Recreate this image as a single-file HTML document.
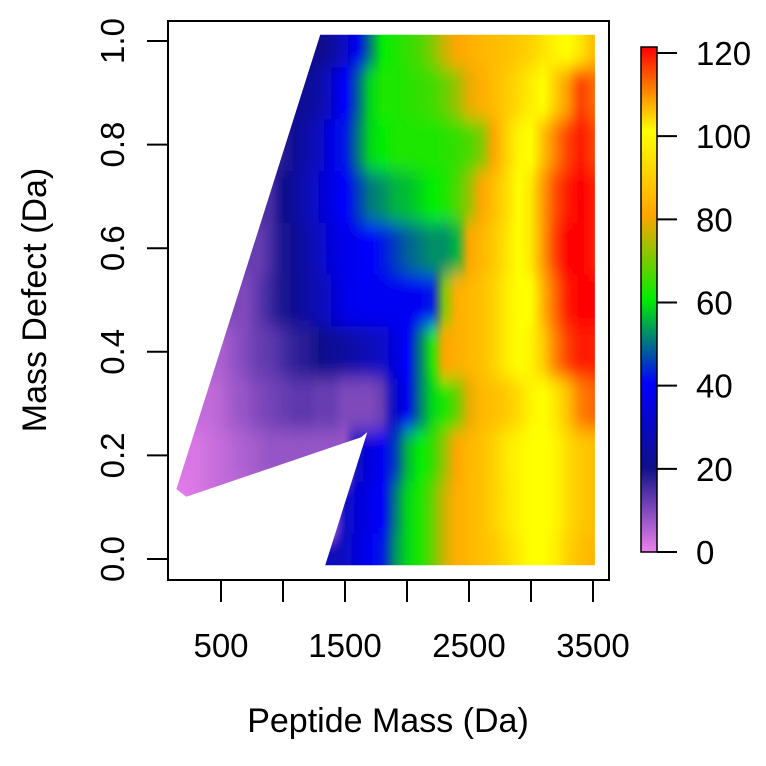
<!DOCTYPE html>
<html><head><meta charset="utf-8"><style>
html,body{margin:0;padding:0;background:#fff;}
svg{display:block;font-family:"Liberation Sans",Arial,sans-serif;}
</style></head><body>
<svg id="chart" width="766" height="766" viewBox="0 0 766 766">
<defs id="defs">
<linearGradient id="cbgrad" x1="0" y1="1" x2="0" y2="0">
<stop offset="0" stop-color="#ee82ee"/><stop offset="0.1667" stop-color="#10108a"/><stop offset="0.3333" stop-color="#0000ff"/><stop offset="0.5" stop-color="#00ee00"/><stop offset="0.6667" stop-color="#ffa500"/><stop offset="0.8333" stop-color="#ffff00"/><stop offset="1" stop-color="#ff0000"/>
</linearGradient>
<clipPath id="regionclip"><polygon id="regionpoly" points=""/></clipPath>
<filter id="vblur" x="-5%" y="-10%" width="110%" height="120%"><feGaussianBlur stdDeviation="1.5 9"/></filter>
</defs>
<g clip-path="url(#regionclip)">
<g id="cells" filter="url(#vblur)"></g>
</g>
<rect x="168" y="21" width="441" height="559" fill="none" stroke="#000" stroke-width="2"/>
<g id="axes"></g>
<rect x="641" y="47" width="16" height="505" fill="url(#cbgrad)" stroke="#000" stroke-width="1.5"/>
<text x="388" y="732" font-size="34" text-anchor="middle">Peptide Mass (Da)</text>
<text transform="translate(46,300) rotate(-90)" font-size="34" text-anchor="middle">Mass Defect (Da)</text>
</svg>
<script>
const defectRows = [0.0,0.1,0.2,0.3,0.4,0.5,0.6,0.7,0.8,0.9,1.0];
const rowStartMass = [1400,200,200,400,500,700,800,900,1000,1200,1300];
const rowValues = [
 [28,30,34,38,42,52,58,62,68,76,82,84,86,88,92,96,100,100,96,90,86,84],
 [1,2,3,4,null,null,null,null,null,null,null,null,null,30,33,36,40,50,58,62,68,76,82,84,86,90,94,98,100,100,98,92,88,86],
 [2,2,3,4,5,6,7,8,8,8,null,null,null,null,30,34,38,45,55,60,64,72,80,84,86,90,95,98,100,100,98,92,88,86],
 [4,5,7,8,10,11,12,13,13,12,12,10,10,10,12,30,38,50,58,62,68,78,84,86,88,92,98,100,102,105,110,112],
 [6,8,10,12,13,15,17,18,20,22,24,26,28,30,34,40,50,62,80,82,84,86,90,96,100,101,104,110,115,118,118],
 [10,13,16,19,22,25,28,32,36,38,38,38,38,38,38,42,70,82,84,86,90,96,100,100,106,112,118,120,120],
 [12,15,19,22,26,30,34,37,38,40,42,45,48,50,52,52,55,80,84,88,94,100,102,108,115,120,120,118],
 [15,20,24,28,32,36,40,45,50,52,55,56,58,60,62,66,72,80,86,92,100,102,108,114,118,120,118],
 [18,22,26,30,36,42,50,58,60,62,62,62,62,63,64,66,70,80,90,98,100,105,110,115,118,115],
 [22,26,32,40,48,58,62,62,63,64,65,68,72,78,82,85,88,92,96,100,104,108,115,112],
 [20,24,30,38,50,60,62,64,66,70,76,80,82,84,85,86,88,90,94,98,100,102,105]
];
const regionMass   = [140, 1300, 3515, 3515, 1340, 1680, 1630, 220];
const regionDefect = [0.135, 1.012, 1.012, -0.012, -0.012, 0.245, 0.235, 0.12];
const xTicks = [500,1000,1500,2000,2500,3000,3500];
const xTickLabels = ["500","1500","2500","3500"];
const yTicks = [0,0.2,0.4,0.6,0.8,1.0];
const cbTicks = [0,20,40,60,80,100,120];

const NS="http://www.w3.org/2000/svg";
function xs(m){return 221+(m-500)*0.124;}
function ys(d){return 559-d*518;}
function cbs(v){return 552-v*(499/120);}
const stops=[[0,[238,130,238]],[20,[16,16,138]],[40,[0,0,255]],[60,[0,238,0]],[80,[255,165,0]],[100,[255,255,0]],[120,[255,0,0]]];
function color(v){
  v=Math.max(0,Math.min(120,v));
  for(let i=0;i<stops.length-1;i++){
    const [a,ca]=stops[i],[b,cb]=stops[i+1];
    if(v<=b){const t=(v-a)/(b-a);
      return 'rgb('+ca.map((c,k)=>Math.round(c+(cb[k]-c)*t)).join(',')+')';}
  }
  return 'rgb(255,0,0)';
}
function mk(tag,attrs){const e=document.createElementNS(NS,tag);for(const k in attrs)e.setAttribute(k,attrs[k]);return e;}
document.getElementById('regionpoly').setAttribute('points',regionMass.map((m,i)=>xs(m).toFixed(1)+','+ys(regionDefect[i]).toFixed(1)).join(' '));
const defs=document.getElementById('defs');
const cells=document.getElementById('cells');
const X0=xs(100), X1=xs(3600);
defectRows.forEach((d,ri)=>{
  const vals=rowValues[ri].slice();
  for(let i=0;i<vals.length;i++){ if(vals[i]===null){ let j=i; while(j<vals.length&&vals[j]===null)j++; let k=i; while(k>=0&&vals[k]===null)k--; vals[i]= (k>=0 && (j>=vals.length || i-k<=j-i)) ? vals[k] : vals[j]; } }
  const g=mk('linearGradient',{id:'row'+ri,gradientUnits:'userSpaceOnUse',x1:X0,x2:X1,y1:0,y2:0});
  vals.forEach((v,ci)=>{
    const m=rowStartMass[ri]+ci*100;
    const off=(xs(m)-X0)/(X1-X0);
    g.appendChild(mk('stop',{offset:off.toFixed(4),'stop-color':color(v)}));
  });
  defs.appendChild(g);
  const y0=(ri===0)?d-0.1:d-0.05, y1=(ri===defectRows.length-1)?d+0.1:d+0.05;
  const r=mk('rect',{x:X0-20,y:ys(y1).toFixed(1),width:(X1-X0+40).toFixed(1),height:(ys(y0)-ys(y1)+0.6).toFixed(1),fill:'url(#row'+ri+')'});
  
  
  cells.appendChild(r);
});
const axes=document.getElementById('axes');
xTicks.forEach(t=>{
  const l=mk('line',{x1:xs(t),x2:xs(t),y1:580,y2:602,stroke:'#000','stroke-width':2});
  
  
  axes.appendChild(l);
});
xTickLabels.forEach(s=>{
  const t=mk('text',{x:xs(+s),y:657,'font-size':33,'text-anchor':'middle'});
  t.textContent=s;
  
  
  axes.appendChild(t);
});
yTicks.forEach(v=>{
  const l=mk('line',{x1:147,x2:168,y1:ys(v),y2:ys(v),stroke:'#000','stroke-width':2});
  
  
  axes.appendChild(l);
  const t=mk('text',{transform:'translate(124,'+ys(v)+') rotate(-90)','font-size':33,'text-anchor':'middle'});
  t.textContent=v.toFixed(1);
  
  
  axes.appendChild(t);
});
cbTicks.forEach(v=>{
  const l=mk('line',{x1:657,x2:677,y1:cbs(v),y2:cbs(v),stroke:'#000','stroke-width':2});
  
  
  axes.appendChild(l);
  const t=mk('text',{x:696,y:cbs(v)+12,'font-size':33});
  t.textContent=String(v);
  
  
  axes.appendChild(t);
});
</script>
</body></html>
